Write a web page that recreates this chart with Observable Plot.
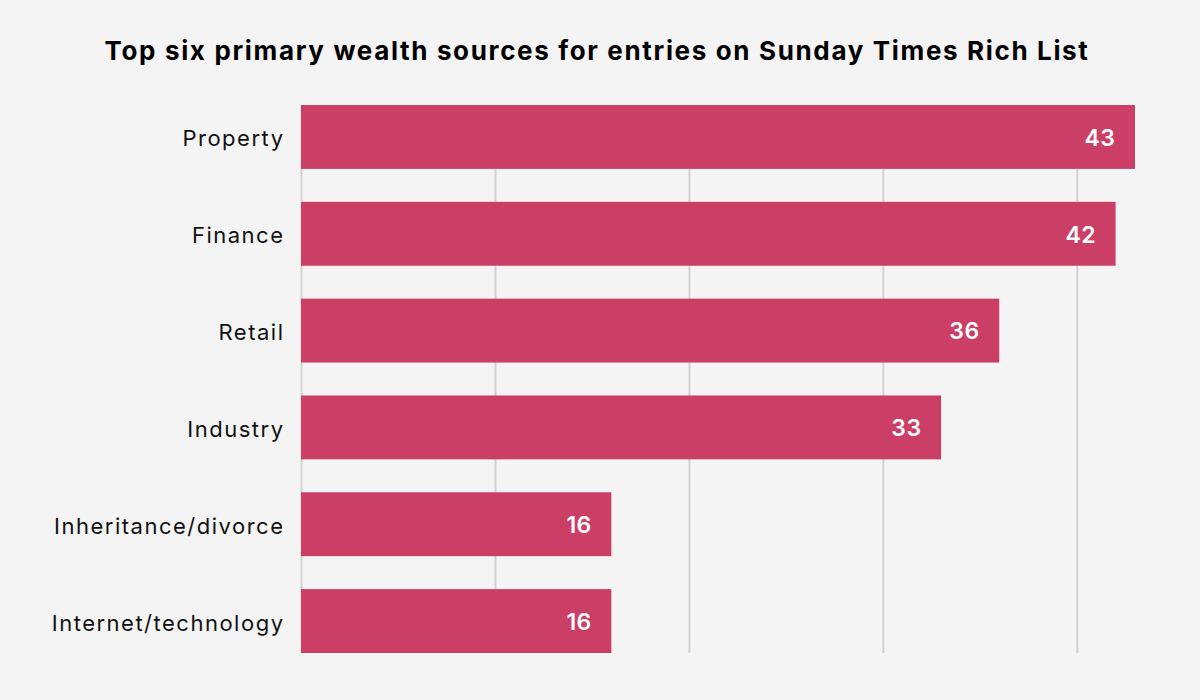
<!DOCTYPE html>
<html>
<head>
<meta charset="utf-8">
<script src="https://cdn.jsdelivr.net/npm/d3@7"></script>
<script src="https://cdn.jsdelivr.net/npm/@observablehq/plot@0.6"></script>
<style>
  html, body { margin: 0; padding: 0; background: #f4f4f4; }
  #title { height: 90px; line-height: 101px; text-align: center; font-family: Inter, sans-serif; font-weight: 700; font-size: 26px; color: #000; letter-spacing: 1.65px; white-space: nowrap; padding-right: 6px; }
  #chart svg { display: block; }
  #chart g[aria-label="y-axis tick label"] text { letter-spacing: 1.5px; }
  #chart g[aria-label="text"] text { letter-spacing: 0.5px; }
</style>
</head>
<body>
<div id="title">Top six primary wealth sources for entries on Sunday Times Rich List</div>
<div id="chart"></div>
<script>
const categories = ["Property", "Finance", "Retail", "Industry", "Inheritance/divorce", "Internet/technology"];
const values = [43, 42, 36, 33, 16, 16];
const gridTicks = [0, 10, 20, 30, 40];

const data = categories.map((c, i) => ({ category: c, value: values[i] }));

const chart = Plot.plot({
  width: 1200,
  height: 610,
  marginTop: 15,
  marginBottom: 47,
  marginLeft: 301,
  marginRight: 65,
  style: { background: "#f4f4f4", fontFamily: "Inter, sans-serif" },
  x: { domain: [0, 43], axis: null },
  y: { domain: categories, paddingInner: 0.34, paddingOuter: 0, round: false, label: null },
  marks: [
    Plot.ruleX(gridTicks, { stroke: "#d2d2d2", strokeWidth: 2, strokeOpacity: 1 }),
    Plot.barX(data, { y: "category", x: "value", fill: "#cb3f66" }),
    Plot.text(data, { y: "category", x: "value", text: d => String(d.value), textAnchor: "end", dx: -20, dy: 1, fill: "white", fontSize: 23, fontWeight: 600 }),
    Plot.axisY({ tickSize: 0, tickPadding: 17, dy: 2, fontSize: 22, fill: "#111", label: null })
  ]
});
document.getElementById("chart").appendChild(chart);
</script>
</body>
</html>
